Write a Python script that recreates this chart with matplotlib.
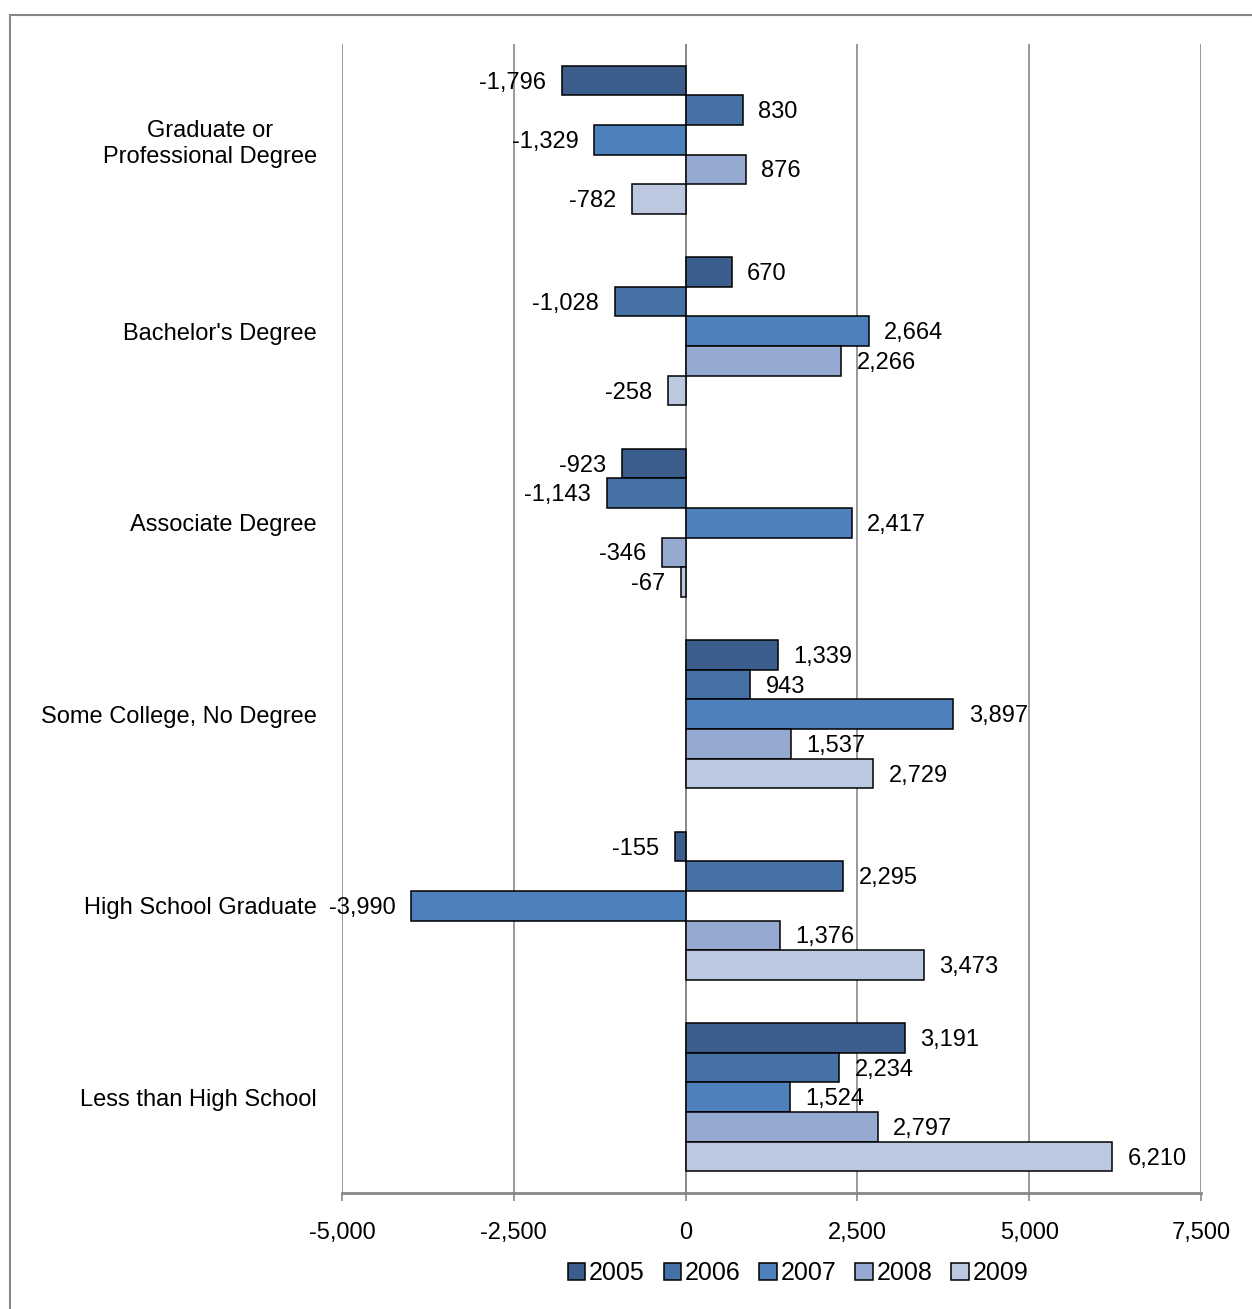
import matplotlib.pyplot as plt
from matplotlib.patches import Rectangle
import numpy as np

plt.rcParams['font.family'] = ['Liberation Sans', 'DejaVu Sans']

categories = ["Graduate or\nProfessional Degree", "Bachelor's Degree", "Associate Degree",
              "Some College, No Degree", "High School Graduate", "Less than High School"]
years = ["2005", "2006", "2007", "2008", "2009"]
values = {
    "2005": [-1796, 670, -923, 1339, -155, 3191],
    "2006": [830, -1028, -1143, 943, 2295, 2234],
    "2007": [-1329, 2664, 2417, 3897, -3990, 1524],
    "2008": [876, 2266, -346, 1537, 1376, 2797],
    "2009": [-782, -258, -67, 2729, 3473, 6210],
}
colors = ["#3B5E8C", "#4571A6", "#4E80BC", "#95A9D1", "#BBC8E0"]
ticks = [-5000, -2500, 0, 2500, 5000, 7500]
grid_col = "#878787"

fig = plt.figure(figsize=(12.52, 13.09), dpi=100)
ax = fig.add_axes([342 / 1252, 1 - 1193 / 1309, 859 / 1252, 1149 / 1309])

# outer chart border (cropped at right and bottom)
fig.patches.append(Rectangle((10 / 1252, -0.1), 1.2, 1 - 15 / 1309 + 0.1,
                             transform=fig.transFigure, fill=False,
                             edgecolor=grid_col, linewidth=1.5))

h = 0.1545
y = np.arange(len(categories))
for i, (yr, col) in enumerate(zip(years, colors)):
    pos = y + (i - 2) * h
    vals = values[yr]
    ax.barh(pos, vals, height=h, color=col, edgecolor="black", linewidth=1.1,
            label=yr, zorder=3)
    for p, v in zip(pos, vals):
        off = 11 if v >= 0 else -11.5
        ax.annotate(f"{v:,}", (v, p), xytext=(off, -1.5), textcoords="offset points",
                    ha="left" if v >= 0 else "right", va="center",
                    fontsize=17, zorder=4)

ax.set_xlim(-5000, 7500)
ax.set_ylim(len(categories) - 0.5, -0.5)
ax.set_xticks(ticks)
ax.set_xticklabels([f"{t:,}" for t in ticks], fontsize=17)
ax.set_yticks(y)
ax.set_yticklabels(categories, fontsize=17, ha="right", multialignment="center")
ax.tick_params(axis="y", length=0, pad=18)
ax.tick_params(axis="x", length=6, width=1.2, color=grid_col, pad=15, direction="out")
ax.xaxis.grid(True, color=grid_col, linewidth=1.2, zorder=0)
ax.set_axisbelow(True)
ax.axvline(0, color=grid_col, linewidth=1.2, zorder=2)
for s in ["top", "right", "left"]:
    ax.spines[s].set_visible(False)
ax.spines["bottom"].set_color(grid_col)
ax.spines["bottom"].set_linewidth(2)

ax.legend(loc="center", bbox_to_anchor=(798 / 1252, 1 - 1273 / 1309),
          bbox_transform=fig.transFigure, ncol=5, frameon=False, fontsize=18,
          handlelength=0.7, handleheight=0.7, handletextpad=0.15,
          columnspacing=0.75)

fig.savefig("out.png", dpi=100)
